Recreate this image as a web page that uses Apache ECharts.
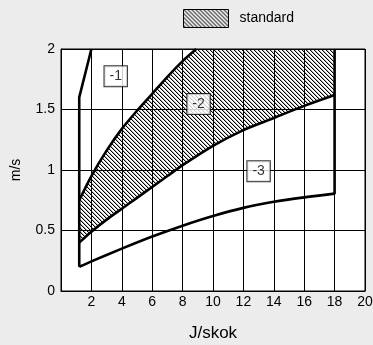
<!DOCTYPE html>
<html>
<head>
<meta charset="utf-8">
<script src="https://cdn.jsdelivr.net/npm/echarts@6/dist/echarts.min.js"></script>
<style>
html,body{margin:0;padding:0;background:#ececec;}
#c{width:373px;height:345px;}
</style>
</head>
<body>
<div id="c"></div>
<script>
// ---- data ----
const upperX = [1.2, 2, 3, 4, 5, 6, 7, 8, 8.9];
const upperY = [0.75, 0.95, 1.16, 1.34, 1.49, 1.63, 1.77, 1.9, 2.0];
const lowerX = [1.2, 2, 3, 4, 5, 6, 7, 8, 10, 12, 14, 16, 18];
const lowerY = [0.4, 0.49, 0.59, 0.68, 0.77, 0.86, 0.95, 1.04, 1.2, 1.33, 1.43, 1.53, 1.62];
const bottomX = [1.2, 2, 4, 6, 8, 10, 12, 14, 16, 18];
const bottomY = [0.2, 0.245, 0.35, 0.45, 0.54, 0.62, 0.687, 0.737, 0.774, 0.805];
const leftX = [1.2, 1.2, 2];
const leftY = [0.2, 1.6, 2];
const rightX = [18, 18];
const rightY = [0.8, 2];
const capY = 2;           // hatched band is cut at the top of the chart
const boxLabels = ['-1', '-2', '-3'];
const boxX = [3.6, 9.05, 13.0];
const boxY = [1.775, 1.545, 0.99];
const xTicks = [0, 2, 4, 6, 8, 10, 12, 14, 16, 18, 20];
const yTicks = [0, 0.5, 1, 1.5, 2];
const legendName = 'standard';

const zip = (xs, ys) => xs.map((x, i) => [x, ys[i]]);

function makeHatch(bg) {
  const cv = document.createElement('canvas');
  cv.width = 4; cv.height = 4;
  const ctx = cv.getContext('2d');
  if (bg) { ctx.fillStyle = bg; ctx.fillRect(0, 0, 4, 4); }
  ctx.fillStyle = '#000';
  for (let i = 0; i < 4; i++) ctx.fillRect(i, i, 1, 1);
  ctx.fillStyle = 'rgba(0,0,0,0.3)';
  for (let i = 0; i < 4; i++) ctx.fillRect((i + 1) % 4, i, 1, 1);
  return cv;
}
const hatch = { image: makeHatch(null), repeat: 'repeat' };
const hatchLegend = { image: makeHatch('#fff'), repeat: 'repeat' };

const FONT = 'Liberation Sans';
const chart = echarts.init(document.getElementById('c'), null, { renderer: 'canvas' });

const lineStyle = { color: '#000', width: 2.6 };
function lineSeries(name, xs, ys, smooth) {
  return {
    name: name, type: 'line', data: zip(xs, ys), symbol: 'none',
    smooth: smooth ? 0.3 : false,
    lineStyle: lineStyle, z: 5, silent: true, animation: false
  };
}

chart.setOption({
  backgroundColor: '#ececec',
  animation: false,
  textStyle: { fontFamily: FONT, color: '#000' },
  legend: {
    left: 178, top: 4,
    itemWidth: 45, itemHeight: 18,
    textStyle: { fontFamily: FONT, fontSize: 14, color: '#000', padding: [0, 0, 0, 6] },
    data: [{ name: legendName, icon: 'rect',
      itemStyle: { color: hatchLegend, borderColor: '#000', borderWidth: 1 } }]
  },
  grid: {
    left: 61, right: 8, top: 49, bottom: 54,
    outerBoundsMode: 'none', containLabel: false,
    show: true, backgroundColor: '#fff', borderColor: '#000', borderWidth: 1
  },
  xAxis: {
    type: 'value', min: xTicks[0], max: xTicks[xTicks.length - 1], interval: 2,
    name: 'J/skok', nameLocation: 'middle', nameGap: 34,
    nameTextStyle: { fontFamily: FONT, fontSize: 17, color: '#000' },
    axisLine: { show: true, lineStyle: { color: '#000', width: 1 } },
    axisTick: { show: false },
    axisLabel: { fontFamily: FONT, fontSize: 14, color: '#000', margin: 4,
      formatter: v => (v === 0 ? '' : String(v)) },
    splitLine: { show: true, lineStyle: { color: '#000', width: 1 } }
  },
  yAxis: {
    type: 'value', min: yTicks[0], max: yTicks[yTicks.length - 1], interval: 0.5,
    name: 'm/s', nameLocation: 'middle', nameGap: 38,
    nameTextStyle: { fontFamily: FONT, fontSize: 14, color: '#000' },
    axisLine: { show: true, lineStyle: { color: '#000', width: 1 } },
    axisTick: { show: false },
    axisLabel: { fontFamily: FONT, fontSize: 14, color: '#000', margin: 6 },
    splitLine: { show: true, lineStyle: { color: '#000', width: 1 } }
  },
  series: [
    {
      name: legendName, type: 'custom', data: [[upperX[0], upperY[0]]],
      itemStyle: { color: hatchLegend }, z: 2, silent: true,
      renderItem: function (params, api) {
        const pts = [];
        zip(upperX, upperY).forEach(p => pts.push(api.coord(p)));
        pts.push(api.coord([rightX[0], capY]));
        const low = zip(lowerX, lowerY);
        for (let i = low.length - 1; i >= 0; i--) pts.push(api.coord(low[i]));
        return { type: 'polygon', shape: { points: pts },
          style: { fill: hatch, stroke: null } };
      }
    },
    lineSeries('upper', upperX, upperY, true),
    lineSeries('lower', lowerX, lowerY, true),
    lineSeries('bottom', bottomX, bottomY, true),
    lineSeries('left', leftX, leftY, false),
    lineSeries('right', rightX, rightY, false),
    {
      name: 'labels', type: 'scatter', symbolSize: 0, z: 10, silent: true,
      data: boxLabels.map((t, i) => ({ name: t, value: [boxX[i], boxY[i]] })),
      label: {
        show: true, position: 'inside', formatter: p => p.name,
        fontFamily: FONT, fontSize: 14, color: '#000',
        backgroundColor: '#fff', borderColor: '#000', borderWidth: 1,
        padding: [3, 5, 3, 5]
      }
    }
  ]
});
</script>
</body>
</html>
